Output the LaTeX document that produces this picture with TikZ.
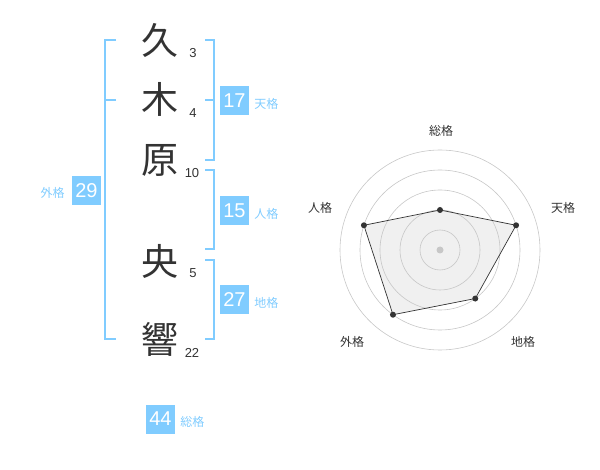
\documentclass[tikz,border=0pt]{standalone}
\usepackage{fontspec}
\setmainfont{Liberation Sans}
\newfontfamily\cjk{Noto Sans CJK JP}
\usetikzlibrary{positioning,calc}
\definecolor{sky}{HTML}{80CCFF}
\definecolor{ink}{HTML}{333333}
\tikzset{
  kanji/.style={font=\cjk\fontsize{37}{37}\selectfont, text=ink, inner sep=0},
  strokes/.style={font=\fontsize{13}{13}\selectfont, text=ink, inner sep=0},
  score/.style={fill=sky, text=white, minimum size=29pt, inner sep=0, font=\fontsize{20}{20}\selectfont},
  kaku/.style={font=\cjk\fontsize{12}{12}\selectfont, text=sky, inner sep=0},
  bracket/.style={draw=sky, line width=2pt},
  ring/.style={draw=black!22, line width=0.6pt},
  axis/.style={font=\cjk\fontsize{12}{12}\selectfont, text=ink, inner sep=0},
  dot/.style={circle, fill=ink, inner sep=0, minimum size=6pt}
}
\begin{document}
\begin{tikzpicture}[x=1pt,y=-1pt]
      \useasboundingbox (0,0) rectangle (600,470);
      % name
      \node[kanji] (c1) at (160,40) {久};
      \node[kanji] (c2) at (160,99) {木};
      \node[kanji] (c3) at (160,160) {原};
      \node[kanji] (c4) at (160,261) {央};
      \node[kanji] (c5) at (160,339) {響};
      \node[strokes] (n1) at (193,53) {3};
      \node[strokes] (n2) at (193,113) {4};
      \node[strokes] (n3) at (192,173) {10};
      \node[strokes] (n4) at (193,273) {5};
      \node[strokes] (n5) at (192,353) {22};

      % brackets
      \coordinate (l1) at (116,40);
      \coordinate (l2) at (116,100);
      \coordinate (l3) at (116,339);
      \coordinate (t1) at (205,40);
      \coordinate (t2) at (205,100);
      \coordinate (t3) at (205,160);
      \coordinate (h1) at (205,170);
      \coordinate (h2) at (205,249);
      \coordinate (d1) at (205,260);
      \coordinate (d2) at (205,339);
      \draw[bracket] (l1) -- ++(-11,0) |- (l3);
      \draw[bracket] (l2) -- ++(-11,0);
      \draw[bracket] (t1) -- ++(9,0) |- (t3);
      \draw[bracket] (t2) -- ++(9,0);
      \draw[bracket] (h1) -- ++(9,0) |- (h2);
      \draw[bracket] (d1) -- ++(9,0) |- (d2);

      % scores
      \node[score] (s1) at (234.5,100.5) {17};
      \node[score] (s2) at (234.5,211) {15};
      \node[score] (s3) at (234.5,300) {27};
      \node[score] (s4) at (86.5,190.5) {29};
      \node[score] (s5) at (160.5,419) {44};
      \node[kaku] (k1) [right = 5pt of s1, yshift=-3pt] {天格};
      \node[kaku] (k2) [right = 5pt of s2, yshift=-3pt] {人格};
      \node[kaku] (k3) [right = 5pt of s3, yshift=-3pt] {地格};
      \node[kaku] (k4) [left = 7pt of s4, yshift=-2pt] {外格};
      \node[kaku] (k5) [right = 5pt of s5, yshift=-3pt] {総格};

      % chart
      \coordinate (o) at (440,250);
      \coordinate (p1) at ($(o)+(-90:40)$);
      \coordinate (p2) at ($(o)+(-18:80)$);
      \coordinate (p3) at ($(o)+(54:60)$);
      \coordinate (p4) at ($(o)+(126:80)$);
      \coordinate (p5) at ($(o)+(198:80)$);
      \fill[black!6] (p1) -- (p2) -- (p3) -- (p4) -- (p5) -- cycle;
      \foreach \r in {20,40,60,80,100}
        \draw[ring] (o) circle[radius=\r pt];
      \fill[black!22] (o) circle[radius=3.5pt];
      \draw[draw=ink, line width=0.7pt] (p1) -- (p2) -- (p3) -- (p4) -- (p5) -- cycle;
      \foreach \i in {1,...,5}
        \node[dot] at (p\i) {};
      \node[axis] (a1) at (441,131) {総格};
      \node[axis] (a2) at (563,208) {天格};
      \node[axis] (a3) at (523,342) {地格};
      \node[axis] (a4) at (352,342) {外格};
      \node[axis] (a5) at (320,208) {人格};
    \end{tikzpicture}
\end{document}
